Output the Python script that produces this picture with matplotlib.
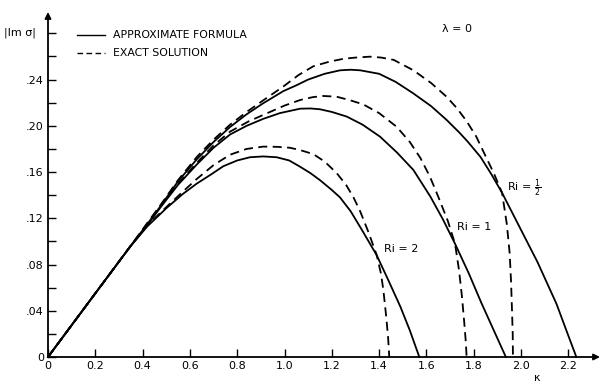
import matplotlib
matplotlib.use("Agg")
import matplotlib.pyplot as plt
from matplotlib.lines import Line2D

plt.rcParams['font.family'] = ['DejaVu Sans']

# ---- data ----
k_half_approx = [0, 0.178, 0.347, 0.42, 0.474, 0.55, 0.629, 0.70, 0.77, 0.84, 0.91, 0.995, 1.05, 1.10,
                 1.17, 1.235, 1.28, 1.32, 1.40, 1.47, 1.545, 1.62, 1.686, 1.74, 1.776, 1.829, 1.875,
                 1.92, 1.97, 2.02, 2.07, 2.11, 2.15, 2.19, 2.234]
y_half_approx = [0, 0.049, 0.0954, 0.115, 0.130, 0.152, 0.171, 0.186, 0.199, 0.210, 0.2195, 0.230, 0.235,
                 0.240, 0.245, 0.248, 0.2485, 0.248, 0.245, 0.238, 0.228, 0.217, 0.205, 0.194, 0.186,
                 0.173, 0.158, 0.142, 0.122, 0.102, 0.082, 0.064, 0.046, 0.024, 0]

k_half_exact = [0, 0.178, 0.347, 0.42, 0.474, 0.55, 0.629, 0.70, 0.77, 0.84, 0.91, 0.995, 1.06, 1.122,
                1.19, 1.25, 1.30, 1.361, 1.41, 1.462, 1.545, 1.62, 1.686, 1.73, 1.77, 1.81, 1.845, 1.885,
                1.92, 1.94, 1.952, 1.958, 1.962, 1.965, 1.966]
y_half_exact = [0, 0.049, 0.0954, 0.116, 0.131, 0.153, 0.173, 0.188, 0.201, 0.212, 0.222, 0.234, 0.244,
                0.2515, 0.2555, 0.258, 0.259, 0.2598, 0.259, 0.257, 0.248, 0.237, 0.225, 0.215, 0.204,
                0.191, 0.176, 0.159, 0.142, 0.115, 0.090, 0.065, 0.040, 0.020, 0]

k_one_approx = [0, 0.178, 0.347, 0.42, 0.474, 0.55, 0.629, 0.70, 0.77, 0.84, 0.91, 0.981, 1.066, 1.11,
                1.15, 1.20, 1.263, 1.33, 1.404, 1.475, 1.545, 1.617, 1.67, 1.721, 1.78, 1.832, 1.885, 1.936]
y_one_approx = [0, 0.049, 0.0954, 0.114, 0.129, 0.149, 0.1665, 0.181, 0.1925, 0.200, 0.206, 0.211, 0.2148,
                0.215, 0.2143, 0.212, 0.208, 0.201, 0.1906, 0.177, 0.1618, 0.1387, 0.119, 0.098, 0.072,
                0.047, 0.023, 0]

k_one_exact = [0, 0.178, 0.347, 0.42, 0.474, 0.55, 0.629, 0.70, 0.77, 0.85, 0.939, 1.00, 1.066, 1.12,
               1.164, 1.22, 1.279, 1.333, 1.40, 1.474, 1.53, 1.575, 1.615, 1.65, 1.69, 1.721, 1.738,
               1.750, 1.760, 1.767, 1.77]
y_one_exact = [0, 0.049, 0.0954, 0.115, 0.130, 0.150, 0.168, 0.183, 0.195, 0.204, 0.212, 0.2175, 0.2223,
               0.2248, 0.2258, 0.2252, 0.222, 0.2185, 0.211, 0.1992, 0.186, 0.172, 0.156, 0.1387, 0.118,
               0.098, 0.075, 0.053, 0.030, 0.012, 0]

k_two_approx = [0, 0.178, 0.347, 0.42, 0.502, 0.57, 0.629, 0.69, 0.741, 0.80, 0.854, 0.91, 0.967, 1.02,
                1.066, 1.11, 1.15, 1.20, 1.235, 1.28, 1.33, 1.39, 1.44, 1.49, 1.53, 1.57]
y_two_approx = [0, 0.049, 0.0954, 0.113, 0.129, 0.141, 0.150, 0.158, 0.165, 0.170, 0.1728, 0.1735, 0.1728,
                0.170, 0.1646, 0.159, 0.153, 0.1445, 0.138, 0.126, 0.109, 0.088, 0.066, 0.0435, 0.023, 0]

k_two_exact = [0, 0.178, 0.347, 0.42, 0.502, 0.57, 0.629, 0.70, 0.77, 0.84, 0.91, 0.97, 1.023, 1.066,
               1.122, 1.17, 1.221, 1.26, 1.292, 1.32, 1.355, 1.39, 1.408, 1.418, 1.43, 1.438, 1.443]
y_two_exact = [0, 0.049, 0.0954, 0.114, 0.130, 0.143, 0.154, 0.166, 0.175, 0.180, 0.182, 0.1818, 0.181,
               0.179, 0.1755, 0.169, 0.159, 0.149, 0.138, 0.126, 0.108, 0.088, 0.072, 0.058, 0.035,
               0.017, 0]

x_ticks = [0, 0.2, 0.4, 0.6, 0.8, 1.0, 1.2, 1.4, 1.6, 1.8, 2.0, 2.2]
x_tick_labels = ["0", "0.2", "0.4", "0.6", "0.8", "1.0", "1.2", "1.4", "1.6", "1.8", "2.0", "2.2"]
y_ticks = [0, 0.04, 0.08, 0.12, 0.16, 0.20, 0.24]
y_tick_labels = ["0", ".04", ".08", ".12", ".16", ".20", ".24"]
y_minor = [0.02, 0.06, 0.10, 0.14, 0.18, 0.22, 0.26, 0.28]

W, H = 602, 382
fig = plt.figure(figsize=(W / 100, H / 100), dpi=100)

# axes: kappa=0 at px 48, y=0 at px 357; 236.5 px per kappa unit, 1156 px per y unit
x0, y0 = 48, 357
xr, yt = 600, 12
ax = fig.add_axes([x0 / W, 1 - y0 / H, (xr - x0) / W, (y0 - yt) / H])
ax.set_xlim(0, (xr - x0) / 236.5)
ax.set_ylim(0, (y0 - yt) / 1156)
ax.patch.set_alpha(0)
for s in ax.spines.values():
    s.set_visible(False)

lw = 1.3
ax.plot(k_half_approx, y_half_approx, color='black', lw=lw, clip_on=False)
ax.plot(k_one_approx, y_one_approx, color='black', lw=lw, clip_on=False)
ax.plot(k_two_approx, y_two_approx, color='black', lw=lw, clip_on=False)
dash = (0, (5, 3))
ax.plot(k_half_exact, y_half_exact, color='black', lw=lw, ls=dash, clip_on=False)
ax.plot(k_one_exact, y_one_exact, color='black', lw=lw, ls=dash, clip_on=False)
ax.plot(k_two_exact, y_two_exact, color='black', lw=lw, ls=dash, clip_on=False)

# axis lines with arrows
xmax = ax.get_xlim()[1]
ymax = ax.get_ylim()[1]
ax.annotate('', xy=(xmax, 0), xytext=(0, 0),
            arrowprops=dict(arrowstyle='-|>', lw=1.3, color='black', mutation_scale=9,
                            shrinkA=0, shrinkB=0), annotation_clip=False)
ax.annotate('', xy=(0, ymax), xytext=(0, 0),
            arrowprops=dict(arrowstyle='-|>', lw=1.3, color='black', mutation_scale=9,
                            shrinkA=0, shrinkB=0), annotation_clip=False)

ax.set_xticks(x_ticks)
ax.set_xticklabels(x_tick_labels)
ax.set_yticks(y_ticks)
ax.set_yticklabels(y_tick_labels)
ax.set_yticks(y_minor, minor=True)
ax.tick_params(axis='x', direction='in', length=6, width=1.0, pad=3, labelsize=8)
ax.tick_params(axis='y', which='major', direction='in', length=6, width=1.0, pad=3, labelsize=8)
ax.tick_params(axis='y', which='minor', direction='in', length=6, width=1.0)

def px(x, y):
    return x / W, 1 - y / H

# y label
fig.text(*px(4, 33), "|Im σ|", fontsize=8, va='center', ha='left')
# kappa label
fig.text(*px(537, 378), "κ", fontsize=8, va='center', ha='center')
# lambda
fig.text(*px(442, 29), "λ = 0", fontsize=8, va='center', ha='left')

# legend
fig.add_artist(Line2D([77 / W, 105 / W], [1 - 35 / H, 1 - 35 / H], color='black', lw=1.0))
fig.add_artist(Line2D([77 / W, 105 / W], [1 - 53 / H, 1 - 53 / H], color='black', lw=1.0,
                      ls=(0, (4, 2.5))))
fig.text(*px(113, 35), "APPROXIMATE FORMULA", fontsize=7.8, va='center', ha='left')
fig.text(*px(113, 53), "EXACT SOLUTION", fontsize=7.8, va='center', ha='left')

# curve labels
fig.text(*px(507, 188), r"Ri = $\frac{1}{2}$", fontsize=8, va='center', ha='left')
fig.text(*px(457, 227), "Ri = 1", fontsize=8, va='center', ha='left')
fig.text(*px(384, 249), "Ri = 2", fontsize=8, va='center', ha='left')

fig.savefig("out.png", dpi=100)
